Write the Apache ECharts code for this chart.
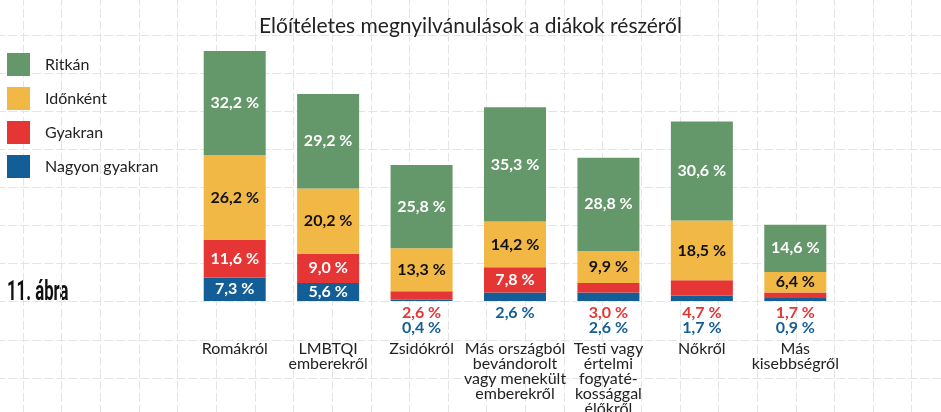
<!DOCTYPE html>
<html>
<head>
<meta charset="utf-8">
<script src="https://cdn.jsdelivr.net/npm/echarts@6/dist/echarts.min.js"></script>
<style>
  html, body { margin: 0; padding: 0; background: #fff; }
  #chart { width: 941px; height: 412px; }
</style>
</head>
<body>
<div id="chart"></div>
<script>
  // adatok
  var categories = ['Romákról', 'LMBTQI\nemberekről', 'Zsidókról', 'Más országból\nbevándorolt\nvagy menekült\nemberekről',
    'Testi vagy\nértelmi\nfogyaté-\nkossággal\nélőkről', 'Nőkről', 'Más\nkisebbségről'];
  var nagyonGyakran = [7.3, 5.6, 0.4, 2.6, 2.6, 1.7, 0.9];
  var gyakran = [11.6, 9.0, 2.6, 7.8, 3.0, 4.7, 1.7];
  var idonkent = [26.2, 20.2, 13.3, 14.2, 9.9, 18.5, 6.4];
  var ritkan = [32.2, 29.2, 25.8, 35.3, 28.8, 30.6, 14.6];

  var FONT = 'Lato';
  var colors = { ritkan: '#64986a', idonkent: '#f2b846', gyakran: '#e53535', nagyon: '#135e96' };
  var minInside = 5;

  function fmt(v) {
    return v.toFixed(1).replace('.', ',') + ' %';
  }

  function barLabel(color) {
    return {
      show: true,
      position: 'inside',
      color: color,
      fontFamily: FONT,
      fontWeight: 'bold',
      fontSize: 16,
      formatter: function (p) { return p.value >= minInside ? fmt(p.value) : ''; }
    };
  }

  // kis értékek a tengely alatt
  function smallLabel(value) {
    var i = categories.indexOf(value);
    var lines = [];
    if (gyakran[i] < minInside) lines.push('{r|' + fmt(gyakran[i]) + '}');
    if (nagyonGyakran[i] < minInside) lines.push('{b|' + fmt(nagyonGyakran[i]) + '}');
    return lines.join('\n');
  }

  // háttér: négyzetrácsos papír
  var gridLine = { show: true, lineStyle: { color: '#e4e4e4', type: [9, 3], width: 1 } };

  var chart = echarts.init(document.getElementById('chart'));
  chart.setOption({
    animation: false,
    backgroundColor: '#fff',
    title: {
      text: 'Előítéletes megnyilvánulások a diákok részéről',
      left: 'center',
      top: 11,
      textStyle: { fontFamily: FONT, fontWeight: 'normal', fontSize: 21, color: '#222' }
    },
    graphic: [{
      type: 'text',
      x: 7,
      y: 280,
      scaleX: 0.62,
      style: { text: '11. ábra', font: 'bold 27px Roboto', fill: '#111' }
    }],
    legend: {
      orient: 'vertical',
      left: 7,
      top: 53,
      padding: 0,
      itemWidth: 23,
      itemHeight: 23,
      itemGap: 11,
      icon: 'rect',
      data: ['Ritkán', 'Időnként', 'Gyakran', 'Nagyon gyakran'],
      textStyle: { fontFamily: FONT, fontSize: 16, color: '#222', padding: [0, 0, 0, 10] }
    },
    grid: [
      { left: 188, right: 99, top: 10, bottom: 111, outerBoundsMode: 'none' },
      { left: -15.64, top: -3.1, width: 966, height: 419.1, outerBoundsMode: 'none' }
    ],
    xAxis: [{
      type: 'category',
      gridIndex: 0,
      data: categories,
      axisLine: { show: false },
      axisTick: { show: false },
      axisLabel: {
        margin: 5,
        interval: 0,
        formatter: smallLabel,
        rich: {
          r: { color: colors.gyakran, fontFamily: FONT, fontWeight: 'bold', fontSize: 16, lineHeight: 14.5 },
          b: { color: colors.nagyon, fontFamily: FONT, fontWeight: 'bold', fontSize: 16, lineHeight: 14.5 }
        }
      }
    }, {
      type: 'category',
      gridIndex: 0,
      position: 'bottom',
      offset: 36,
      data: categories,
      axisLine: { show: false },
      axisTick: { show: false },
      axisLabel: {
        margin: 4,
        interval: 0,
        fontFamily: FONT,
        fontSize: 16,
        lineHeight: 15,
        color: '#222'
      }
    }, {
      type: 'value',
      gridIndex: 1,
      min: 0,
      max: 25,
      interval: 1,
      axisLine: { show: false },
      axisTick: { show: false },
      axisLabel: { show: false },
      splitLine: gridLine
    }],
    yAxis: [{
      type: 'value',
      gridIndex: 0,
      min: 0,
      max: 90,
      show: false,
      splitLine: { show: false }
    }, {
      type: 'value',
      gridIndex: 1,
      min: 0,
      max: 11,
      interval: 1,
      axisLine: { show: false },
      axisTick: { show: false },
      axisLabel: { show: false },
      splitLine: gridLine
    }],
    series: [
      { name: 'Nagyon gyakran', type: 'bar', stack: 'total', barWidth: 62, data: nagyonGyakran,
        itemStyle: { color: colors.nagyon }, label: barLabel('#fff') },
      { name: 'Gyakran', type: 'bar', stack: 'total', barWidth: 62, data: gyakran,
        itemStyle: { color: colors.gyakran }, label: barLabel('#fff') },
      { name: 'Időnként', type: 'bar', stack: 'total', barWidth: 62, data: idonkent,
        itemStyle: { color: colors.idonkent }, label: barLabel('#111') },
      { name: 'Ritkán', type: 'bar', stack: 'total', barWidth: 62, data: ritkan,
        itemStyle: { color: colors.ritkan }, label: barLabel('#fff') }
    ]
  });
</script>
</body>
</html>
